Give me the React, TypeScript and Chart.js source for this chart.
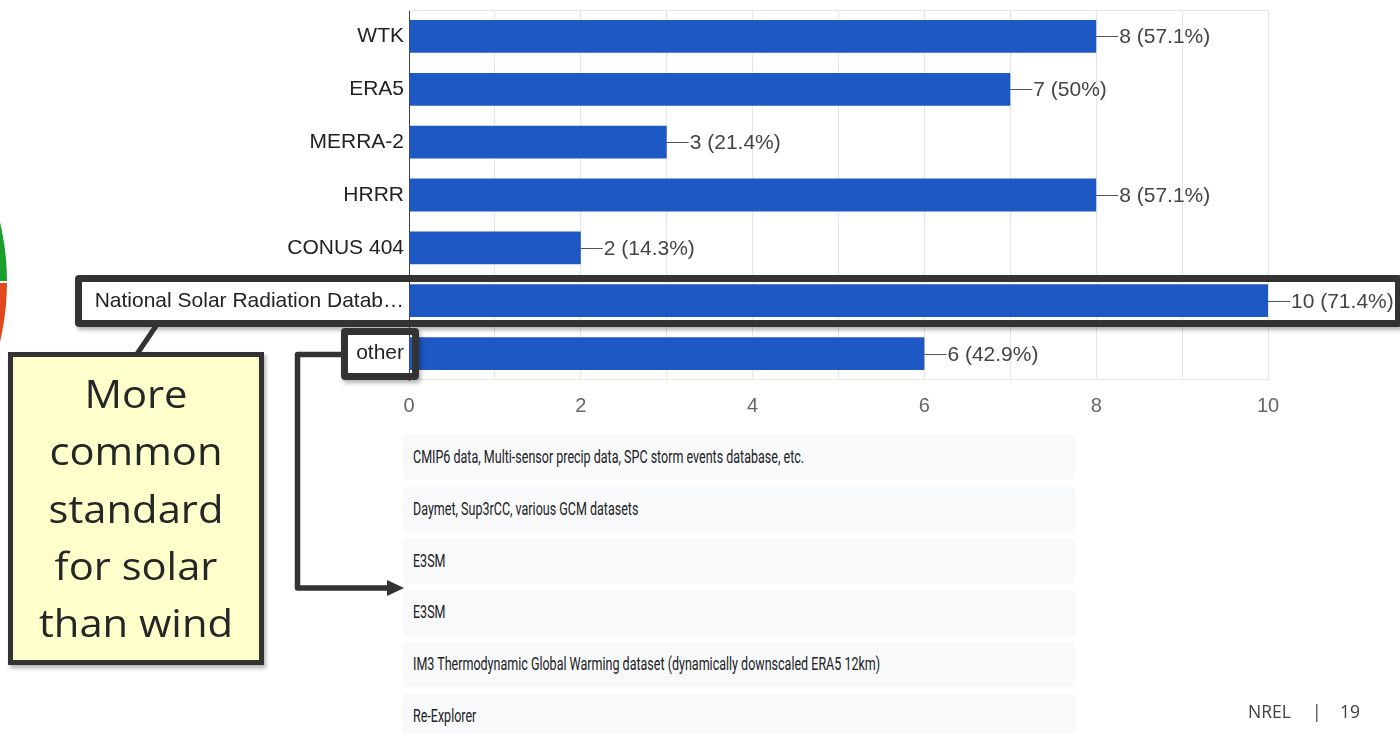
import React, { useEffect, useRef } from "react";
import { Chart, registerables } from "chart.js";

Chart.register(...registerables);

const categories = [
  "WTK",
  "ERA5",
  "MERRA-2",
  "HRRR",
  "CONUS 404",
  "National Solar Radiation Datab…",
  "other",
];
const counts = [8, 7, 3, 8, 2, 10, 6];
const respondents = 14;
const xTickLabels = [0, 2, 4, 6, 8, 10];
const otherResponses = [
  "CMIP6 data, Multi-sensor precip data, SPC storm events database, etc.",
  "Daymet, Sup3rCC, various GCM datasets",
  "E3SM",
  "E3SM",
  "IM3 Thermodynamic Global Warming dataset (dynamically downscaled ERA5 12km)",
  "Re-Explorer",
];
const calloutLines = ["More", "common", "standard", "for solar", "than wind"];
const footerParts = ["NREL", "|", "19"];

const ARIAL = '"Liberation Sans", Arial, sans-serif';

function pctLabel(v: number): string {
  const p = (v / respondents) * 100;
  const s = p.toFixed(1).replace(/\.0$/, "");
  return `${v} (${s}%)`;
}

const valueLabels = {
  id: "valueLabels",
  afterDatasetsDraw(chart: any) {
    const ctx = chart.ctx;
    const meta = chart.getDatasetMeta(0);
    ctx.save();
    ctx.font = `21px ${ARIAL}`;
    ctx.textBaseline = "middle";
    ctx.textAlign = "left";
    meta.data.forEach((bar: any, i: number) => {
      const x = bar.x;
      const y = Math.round(bar.y) + 0.5;
      ctx.strokeStyle = "#555";
      ctx.lineWidth = 1;
      ctx.beginPath();
      ctx.moveTo(x, y);
      ctx.lineTo(x + 22, y);
      ctx.stroke();
      ctx.fillStyle = "#444";
      ctx.fillText(pctLabel(counts[i]), x + 23, y + 1);
    });
    ctx.restore();
  },
};

const frameLines = {
  id: "frameLines",
  beforeDatasetsDraw(chart: any) {
    const { ctx, chartArea } = chart;
    ctx.save();
    ctx.strokeStyle = "#e6e6e6";
    ctx.lineWidth = 1;
    ctx.beginPath();
    ctx.moveTo(chartArea.left, chartArea.top + 0.5);
    ctx.lineTo(chartArea.right, chartArea.top + 0.5);
    ctx.moveTo(chartArea.left, chartArea.bottom - 0.5);
    ctx.lineTo(chartArea.right, chartArea.bottom - 0.5);
    ctx.stroke();
    ctx.restore();
  },
};

function BarChart() {
  const ref = useRef<HTMLCanvasElement>(null);
  useEffect(() => {
    if (!ref.current) return;
    const chart = new Chart(ref.current, {
      type: "bar",
      data: {
        labels: categories,
        datasets: [
          {
            data: counts,
            backgroundColor: "#1d58c4",
            borderWidth: 0,
            categoryPercentage: 1,
            barPercentage: 0.62,
          },
        ],
      },
      options: {
        indexAxis: "y",
        responsive: false,
        animation: false,
        devicePixelRatio: 1,
        layout: { padding: { top: 10, right: 132, left: 0, bottom: 0 } },
        plugins: {
          legend: { display: false },
          tooltip: { enabled: false },
        },
        scales: {
          x: {
            type: "linear",
            min: 0,
            max: 10,
            afterFit: (s: any) => {
              s.height = 40;
              s.paddingLeft = 0;
              s.paddingRight = 0;
            },
            ticks: {
              stepSize: 1,
              autoSkip: false,
              padding: 14,
              color: "#666",
              font: { family: ARIAL, size: 20 },
              callback: (v: any) => (xTickLabels.includes(Number(v)) ? String(v) : ""),
            },
            grid: { color: "#e6e6e6", drawTicks: false },
            border: { display: false },
          },
          y: {
            type: "category",
            afterFit: (s: any) => {
              s.width = 409;
              s.paddingTop = 0;
              s.paddingBottom = 0;
            },
            ticks: {
              padding: 5,
              color: "#222",
              font: { family: ARIAL, size: 21 },
            },
            grid: { display: false, drawTicks: false },
            border: { display: true, color: "#444", width: 1 },
          },
        },
      } as any,
      plugins: [frameLines, valueLabels],
    });
    return () => chart.destroy();
  }, []);
  return (
    <canvas
      ref={ref}
      width={1400}
      height={420}
      style={{ position: "absolute", left: 0, top: 0, width: 1400, height: 420 }}
    />
  );
}

export default function App() {
  const boxShadow = "2px 3px 4px rgba(0,0,0,0.3)";
  return (
    <div
      style={{
        position: "absolute",
        left: 0,
        top: 0,
        width: 1400,
        height: 734,
        overflow: "hidden",
        background: "#ffffff",
      }}
    >
      {/* partial pie at left edge */}
      <svg
        width={20}
        height={160}
        style={{ position: "absolute", left: 0, top: 200 }}
      >
        <path d="M -253 82 L 7 82 A 260 260 0 0 0 -253 -178 Z" fill="#1a9e2c" />
        <path d="M -253 82 L 7 82 A 260 260 0 0 1 -253 342 Z" fill="#e2481c" />
        <line x1={-10} y1={82} x2={20} y2={82} stroke="#fff" strokeWidth={2} />
      </svg>

      <BarChart />

      {/* list of "other" responses */}
      {otherResponses.map((t, i) => (
        <div
          key={i}
          style={{
            position: "absolute",
            left: 403,
            top: 435 + i * 51.8,
            width: 672,
            height: 45,
            background: "#f8f9fa",
            borderRadius: 3,
            overflow: "hidden",
          }}
        >
          <span
            style={{
              position: "absolute",
              left: 10,
              top: 0,
              lineHeight: "45px",
              fontFamily: "Roboto, sans-serif",
              fontSize: 17.5,
              color: "#202124",
              whiteSpace: "nowrap",
              transform: "scaleX(0.715)",
              transformOrigin: "left center",
            }}
          >
            {t}
          </span>
        </div>
      ))}

      {/* highlight boxes */}
      <div
        style={{
          position: "absolute",
          left: 75,
          top: 275,
          width: 1327,
          height: 52,
          border: "7px solid #333",
          borderRadius: 4,
          boxSizing: "border-box",
          boxShadow,
        }}
      />
      <div
        style={{
          position: "absolute",
          left: 341,
          top: 328,
          width: 78,
          height: 52,
          border: "7px solid #333",
          borderRadius: 4,
          boxSizing: "border-box",
          boxShadow,
        }}
      />

      {/* connectors */}
      <svg
        width={1400}
        height={734}
        style={{ position: "absolute", left: 0, top: 0, pointerEvents: "none" }}
      >
        <line x1={137} y1={354} x2={156} y2={326} stroke="#333" strokeWidth={5} />
        <polyline
          points="342,354.5 297.5,354.5 297.5,588 389,588"
          fill="none"
          stroke="#333"
          strokeWidth={5.5}
          strokeLinejoin="round"
        />
        <polygon points="387,580 404,588 387,596" fill="#333" />
      </svg>

      {/* yellow callout */}
      <div
        style={{
          position: "absolute",
          left: 8,
          top: 352,
          width: 256,
          height: 313,
          border: "5px solid #333",
          background: "#ffffcc",
          boxSizing: "border-box",
          boxShadow,
        }}
      />
      <div
        style={{
          position: "absolute",
          left: 13,
          top: 364,
          width: 246,
          textAlign: "center",
          fontFamily: '"Open Sans", sans-serif',
          fontSize: 39,
          lineHeight: "57.3px",
          color: "#262626",
          transform: "scaleX(1.07)",
          transformOrigin: "center top",
        }}
      >
        {calloutLines.map((l, i) => (
          <div key={i}>{l}</div>
        ))}
      </div>

      {/* footer */}
      {footerParts.map((p, i) => (
        <div
          key={i}
          style={{
            position: "absolute",
            left: [1248, 1312, 1340][i],
            top: 701,
            lineHeight: "20px",
            fontFamily: '"Open Sans", sans-serif',
            fontSize: 17.5,
            color: "#404040",
            whiteSpace: "nowrap",
          }}
        >
          {p}
        </div>
      ))}
    </div>
  );
}
